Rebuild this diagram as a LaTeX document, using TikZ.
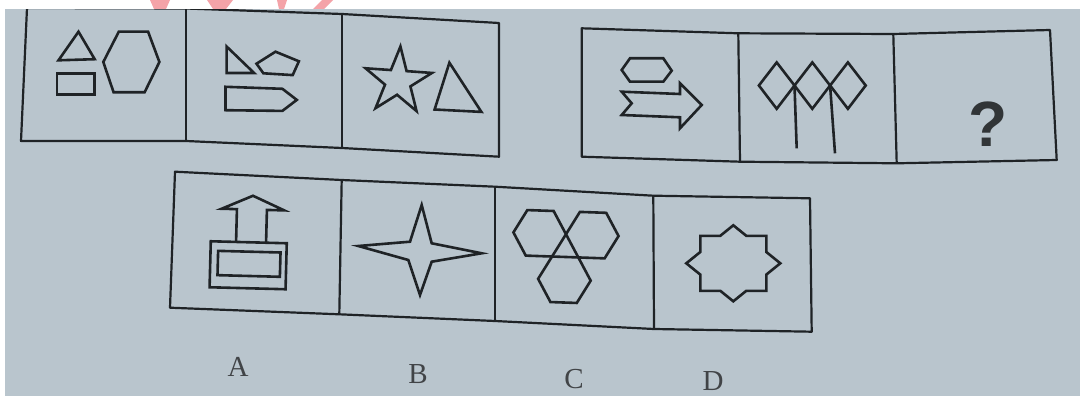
\documentclass[tikz,border=0pt]{standalone}
\usepackage{fontspec}
\setmainfont{Liberation Serif}
\newfontfamily\qfont{Liberation Sans}
\definecolor{bg}{HTML}{B9C5CD}
\definecolor{ink}{HTML}{1F2326}
\definecolor{wm}{HTML}{F4A3A8}
\begin{document}
\begin{tikzpicture}[x=1pt,y=-1pt,
  frame/.style={draw=ink, line width=2.2pt, line join=round},
  shp/.style={draw=ink, line width=2.6pt, line join=miter},
  lbl/.style={font=\fontsize{29}{30}\selectfont, text=ink!85, inner sep=0pt, anchor=base},
  qmark/.style={font=\qfont\bfseries\fontsize{64}{64}\selectfont, text=ink!92, inner sep=0pt, anchor=base}]
\useasboundingbox (0,0) rectangle (1080,396);
\fill[bg] (0,0) rectangle (1080,396);

% ---------- top-left set of panels ----------
\coordinate (a1) at (27,8);   \coordinate (a2) at (186,8.5);
\coordinate (a3) at (342,14); \coordinate (a4) at (499,23);
\coordinate (b1) at (21,141); \coordinate (b2) at (186,141);
\coordinate (b3) at (342,148);\coordinate (b4) at (499,156.7);
\draw[frame] (a1) -- (a2) -- (a3) -- (a4) -- (b4) -- (b3) -- (b2) -- (b1) -- cycle;
\draw[frame] (a2) -- (b2);
\draw[frame] (a3) -- (b3);

% panel 1
\draw[shp] (78.5,31.7) -- (94.7,59.2) -- (58.5,60.3) -- cycle;
\draw[shp] (56.8,73.3) rectangle (94.7,94.7);
\draw[shp] (118.8,31.7) -- (148.1,31.7) -- (159.4,62) -- (144.6,92.3) -- (113.6,92.3) -- (103.3,62) -- cycle;
% panel 2
\draw[shp] (226.6,46.5) -- (254.1,73) -- (226.6,73) -- cycle;
\draw[shp] (256.5,63.7) -- (275.5,51.7) -- (298.9,61.3) -- (292.7,75.1) -- (263.4,73.3) -- cycle;
\draw[shp] (225.5,86.8) -- (282.4,88.8) -- (296.8,99.9) -- (282.4,110.9) -- (225.5,110.2) -- cycle;
% panel 3
\begin{scope}[shift={(398,81.4)}, rotate=-4]
\draw[shp] (-90:35) -- (-54:13.4) -- (-18:35) -- (18:13.4) -- (54:35) -- (90:13.4)
  -- (126:35) -- (162:13.4) -- (198:35) -- (234:13.4) -- cycle;
\end{scope}
\draw[shp] (449.4,62.7) -- (481.4,111.9) -- (434.6,109.5) -- cycle;

% ---------- top-right set of panels ----------
\coordinate (c1) at (581.7,28.3); \coordinate (c2) at (738.3,33.3);
\coordinate (c3) at (893.3,34);   \coordinate (c4) at (1050,30);
\coordinate (d1) at (581.7,156.7);\coordinate (d2) at (740,161.7);
\coordinate (d3) at (896.7,163.3);\coordinate (d4) at (1056.7,160);
\draw[frame] (c1) -- (c2) -- (c3) -- (c4) -- (d4) -- (d3) -- (d2) -- (d1) -- cycle;
\draw[frame] (c2) -- (d2);
\draw[frame] (c3) -- (d3);

\draw[shp] (621.7,70) -- (630,58.3) -- (663.3,58.3) -- (671.7,70.7) -- (663.3,81.7) -- (630,81.7) -- cycle;
\draw[shp] (621.7,91.7) -- (680,94) -- (680,83.3) -- (701.7,105) -- (680,128.3) -- (680,117.3)
  -- (621.7,115) -- (631.7,103.3) -- cycle;
\foreach \cx in {776.7,812.3,847.9}
  \draw[shp] (\cx-17.8,85.5) -- (\cx,62.4) -- (\cx+17.8,85.5) -- (\cx,108.8) -- cycle;
\coordinate (j1) at (794.5,85.5); \coordinate (e1) at (796.7,148.3);
\coordinate (j2) at (830.1,85.5); \coordinate (e2) at (835,153.3);
\draw[shp] (j1) -- (e1);
\draw[shp] (j2) -- (e2);
\node[qmark] (q) at (988,146.5) {?};

% ---------- answer options ----------
\coordinate (f1) at (175,171.7);   \coordinate (f2) at (341.7,180);
\coordinate (f3) at (495,186.7);   \coordinate (f4) at (653.3,195.7);
\coordinate (f5) at (810,198.3);
\coordinate (g1) at (170,307.7);   \coordinate (g2) at (339.3,314.3);
\coordinate (g3) at (495,321);     \coordinate (g4) at (654,329);
\coordinate (g5) at (811.7,331.7);
\draw[frame] (f1) -- (f2) -- (f3) -- (f4) -- (f5) -- (g5) -- (g4) -- (g3) -- (g2) -- (g1) -- cycle;
\draw[frame] (f2) -- (g2);
\draw[frame] (f3) -- (g3);
\draw[frame] (f4) -- (g4);

% A
\begin{scope}[rotate around={-1.5:(250,245)}]
\draw[shp] (236,242.3) -- (236,209.5) -- (220.7,209.5) -- (251.7,195.7) -- (283.3,209.5) -- (266,209.5) -- (266,242.3);
\draw[shp] (210.7,242.3) rectangle (286.7,288.3);
\draw[shp] (218.3,251.7) rectangle (280.7,276);
\end{scope}
% B
\draw[shp] (421.7,205) -- (431.7,243.3) -- (481.7,253.3) -- (431.7,261.7) -- (420,295)
  -- (408.3,260) -- (358.3,246) -- (410,241.7) -- cycle;
% C
\begin{scope}[shift={(539.7,233.3)}, rotate=-2]
\foreach \hx/\hy in {0/0, 52.6/0, 26.3/45.55}
  \draw[shp] (\hx+26.3,\hy) -- (\hx+13.15,\hy+22.78) -- (\hx-13.15,\hy+22.78) -- (\hx-26.3,\hy)
    -- (\hx-13.15,\hy-22.78) -- (\hx+13.15,\hy-22.78) -- cycle;
\end{scope}
% D
\begin{scope}[shift={(733.3,263.3)}]
\draw[shp] (0,-38) -- (13,-27.5) -- (33,-27.5) -- (33,-11.3) -- (47,0) -- (33,11.3) -- (33,27.5)
  -- (13,27.5) -- (0,38) -- (-13,27.5) -- (-33,27.5) -- (-33,11.3) -- (-47,0) -- (-33,-11.3)
  -- (-33,-27.5) -- (-13,-27.5) -- cycle;
\end{scope}

\node[lbl] (la) at (238,376) {A};
\node[lbl] (lb) at (418,383) {B};
\node[lbl] (lc) at (574,388) {C};
\node[lbl] (ld) at (713,390.5) {D};

% white paper edge at the top and left, with fragments of a red watermark
\fill[white] (0,0) rectangle (1080,9);
\fill[white] (0,0) rectangle (5,396);
\fill[wm] (150,0) -- (170,0) -- (166,9) -- (154,9) -- cycle;
\fill[wm] (207,0) -- (233,0) -- (226,9) -- (213,9) -- cycle;
\fill[wm] (277,0) -- (287,0) -- (284,9) -- (279,9) -- cycle;
\fill[wm] (313,9) -- (322,0) -- (333,0) -- (324,9) -- cycle;
\end{tikzpicture}
\end{document}
